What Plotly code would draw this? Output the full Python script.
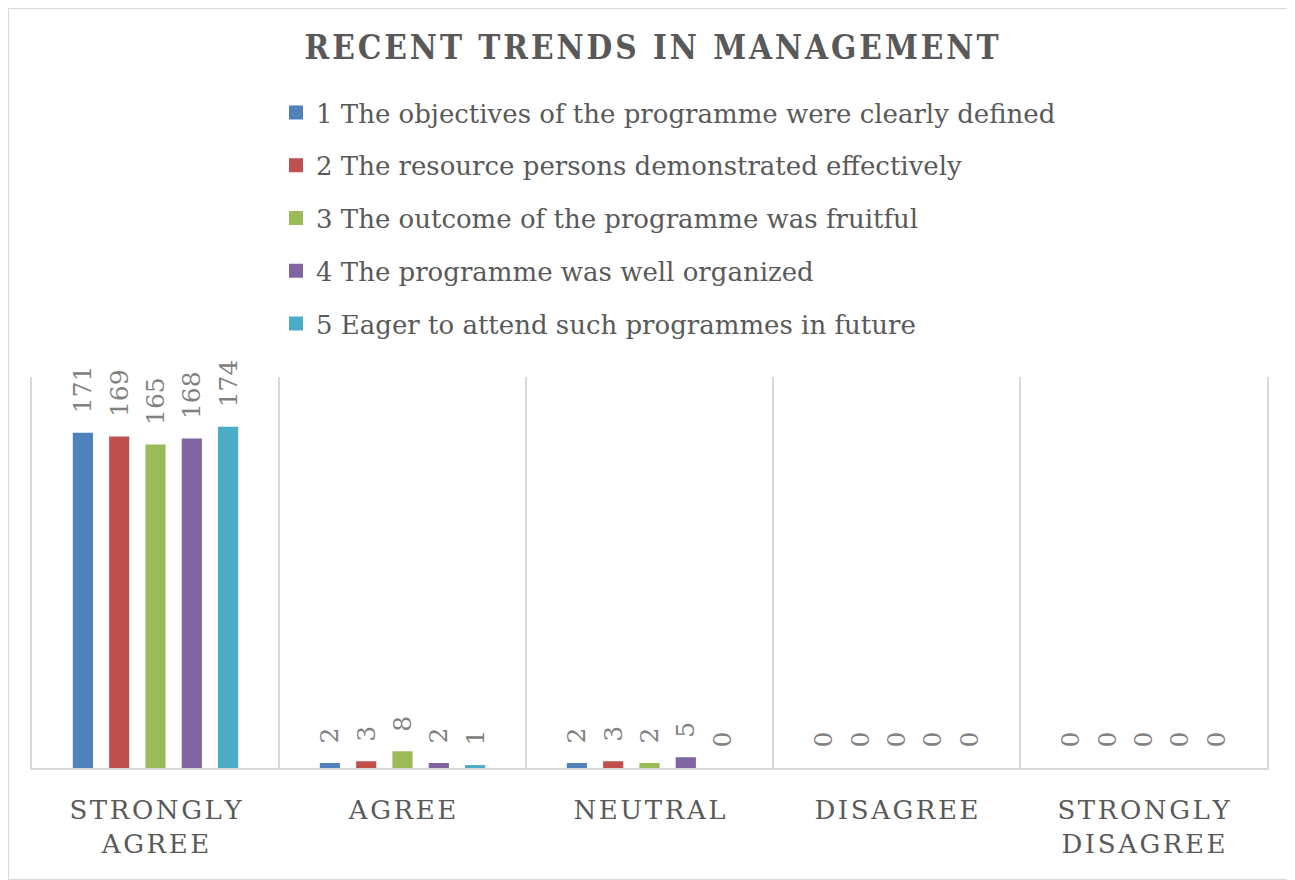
import plotly.graph_objects as go

categories = ["STRONGLY AGREE", "AGREE", "NEUTRAL", "DISAGREE", "STRONGLY DISAGREE"]
series_names = [
    "1 The objectives of the programme were clearly defined",
    "2 The resource persons demonstrated effectively",
    "3 The outcome of the programme was fruitful",
    "4 The programme was well organized",
    "5 Eager to attend such programmes in future",
]
s1 = [171, 2, 2, 0, 0]
s2 = [169, 3, 3, 0, 0]
s3 = [165, 8, 2, 0, 0]
s4 = [168, 2, 5, 0, 0]
s5 = [174, 1, 0, 0, 0]
series_values = [s1, s2, s3, s4, s5]
colors = ["#4F81BD", "#C0504D", "#9BBB59", "#8064A2", "#4BACC6"]

HAIR = "\u200A"
LEAD = "\u2002\u2009"  # space between bar top and rotated label


def spaced(label):
    return "<br>".join(HAIR.join(list(w)) for w in label.split(" "))


tick_text = [spaced(c) for c in categories]

FONT = "DejaVu Serif"
GREY = "#595959"

fig = go.Figure()
for i, (name, vals, col) in enumerate(zip(series_names, series_values, colors)):
    fig.add_trace(go.Bar(
        x=categories, y=vals, name=name, marker_color=col,
        marker_line=dict(width=[2 if v > 0 else 0 for v in vals], color=col),
        text=[LEAD + str(v) for v in vals], textposition="outside", textangle=-90,
        textfont=dict(family=FONT, size=25, color="#808080"),
        constraintext="none", cliponaxis=False, legendgroup=f"g{i}",
    ))

W, H = 1287, 872
ml, mr, mt, mb = 24, 28, 369, 112
pw, ph = W - ml - mr, H - mt - mb

fig.update_layout(
    width=W, height=H,
    margin=dict(l=ml, r=mr, t=mt, b=mb),
    paper_bgcolor="white", plot_bgcolor="white",
    barmode="group", bargap=0.265, bargroupgap=0.5,
    title=dict(text=HAIR.join("RECENT TRENDS IN MANAGEMENT"), x=0.5, xanchor="center",
               y=1 - 39 / H, yanchor="middle",
               font=dict(family="DejaVu Serif Condensed, DejaVu Serif", size=33, color=GREY, weight="bold")),
    legend=dict(orientation="v", x=244 / pw, xanchor="left", y=1 + 288 / ph, yanchor="top",
                font=dict(family=FONT, size=26, color=GREY), tracegroupgap=16,
                bgcolor="rgba(0,0,0,0)"),
    xaxis=dict(tickmode="array", tickvals=categories, ticktext=tick_text,
               tickson="boundaries", showgrid=True, gridcolor="#D9D9D9", gridwidth=2,
               showline=True, linecolor="#D9D9D9", linewidth=2, ticks="",
               ticklabelstandoff=18,
               tickfont=dict(family=FONT, size=26, color=GREY)),
    yaxis=dict(range=[0, 200], showgrid=False, showticklabels=False, zeroline=False,
               showline=True, mirror=True, linecolor="#D9D9D9", linewidth=2, ticks=""),
    showlegend=True,
)
fig.add_shape(type="rect", xref="paper", yref="paper",
              x0=-(ml - 0.5) / pw, x1=1 + (mr - 0.5) / pw, y0=-(mb - 0.5) / ph, y1=1 + (mt - 0.5) / ph,
              line=dict(color="#D9D9D9", width=1), layer="below")

fig.write_html("out.html")
